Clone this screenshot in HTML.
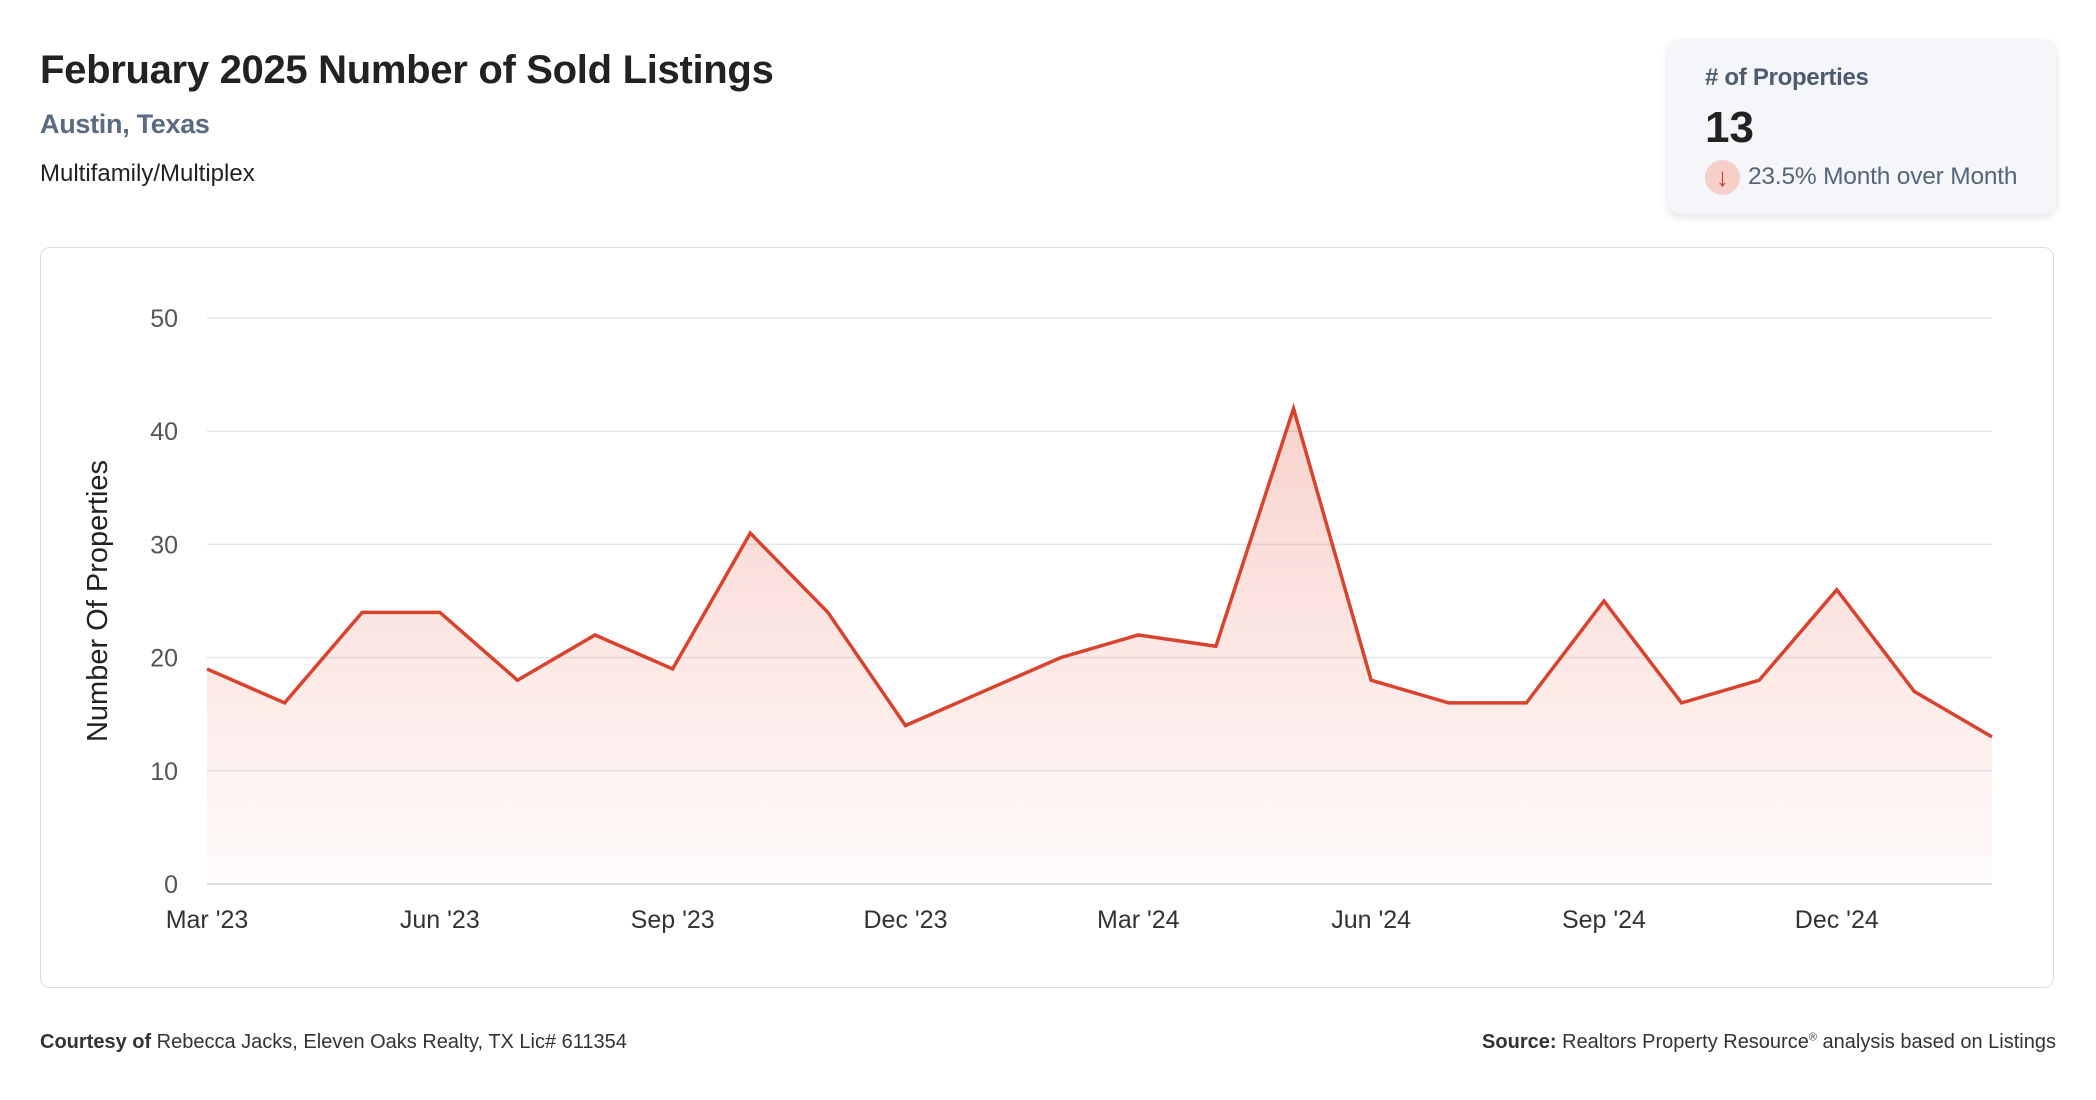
<!DOCTYPE html>
<html><head><meta charset="utf-8"><style>
body{margin:0;width:2096px;height:1100px;background:#fff;font-family:"Liberation Sans",sans-serif;position:relative;overflow:hidden}
.a{position:absolute;white-space:nowrap}
</style></head><body>
<div class="a" style="left:40px;top:48px;font-size:40px;font-weight:bold;color:#222;letter-spacing:-0.3px">February 2025 Number of Sold Listings</div>
<div class="a" style="left:40px;top:109px;font-size:27px;font-weight:bold;color:#5a6a80;letter-spacing:-0.3px">Austin, Texas</div>
<div class="a" style="left:40px;top:160px;font-size:24px;color:#222">Multifamily/Multiplex</div>
<div class="a" style="left:1668px;top:39px;width:388px;height:175px;background:#f4f6f9;border-radius:12px;box-shadow:0 3px 8px rgba(0,0,0,0.12)">
 <div class="a" style="left:37px;top:25px;font-size:24px;font-weight:bold;color:#4d5b6e;letter-spacing:-0.3px"># of Properties</div>
 <div class="a" style="left:37px;top:64px;font-size:44px;font-weight:bold;color:#222">13</div>
 <div class="a" style="left:37px;top:121px;width:35px;height:35px;border-radius:50%;background:#f5cfc8;color:#c8402c;font-size:26px;text-align:center;line-height:35px">↓</div>
 <div class="a" style="left:80px;top:124px;font-size:24.5px;color:#55657a;letter-spacing:-0.2px">23.5% Month over Month</div>
</div>
<div class="a" style="left:40px;top:247px;width:2012px;height:739px;border:1.5px solid #d8dde3;border-radius:10px"></div>
<svg class="a" style="left:0;top:0" width="2096" height="1100">
<defs><linearGradient id="g" x1="0" y1="0" x2="0" y2="1"><stop offset="0" stop-color="#e8604a" stop-opacity="0.28"/><stop offset="1" stop-color="#e8604a" stop-opacity="0.02"/></linearGradient></defs>
<g id="grid"></g><g id="area"></g><g id="lbl"></g>
<text transform="translate(107,601) rotate(-90)" text-anchor="middle" font-size="29" fill="#222" font-family="Liberation Sans">Number Of Properties</text>
</svg>
<div class="a" style="left:40px;top:1031px;font-size:20px;color:#333"><b>Courtesy of</b> Rebecca Jacks, Eleven Oaks Realty, TX Lic# 611354</div>
<div class="a" style="right:40px;top:1031px;font-size:20px;color:#333"><b>Source:</b> Realtors Property Resource<sup style="font-size:11px">®</sup> analysis based on Listings</div>
<script>
const months=["Mar '23","Apr '23","May '23","Jun '23","Jul '23","Aug '23","Sep '23","Oct '23","Nov '23","Dec '23","Jan '24","Feb '24","Mar '24","Apr '24","May '24","Jun '24","Jul '24","Aug '24","Sep '24","Oct '24","Nov '24","Dec '24","Jan '25","Feb '25"];
const sold=[19,16,24,24,18,22,19,31,24,14,17,20,22,21,42,18,16,16,25,16,18,26,17,13];
const yTicks=[0,10,20,30,40,50];
const xTickIdx=[0,3,6,9,12,15,18,21];
const NS="http://www.w3.org/2000/svg";
const x0=207,x1=1992,yb=884,yt=318;
const xs=i=>x0+(x1-x0)*i/(months.length-1);
const ys=v=>yb-(yb-yt)*v/50;
function mk(t,p,a){const e=document.createElementNS(NS,t);for(const k in a)e.setAttribute(k,a[k]);p.appendChild(e);return e;}
const grid=document.getElementById('grid'),area=document.getElementById('area'),lbl=document.getElementById('lbl');
yTicks.forEach(v=>{
 const l=mk('line',grid,{x1:x0,x2:x1,y1:ys(v),y2:ys(v),stroke:v===0?'#d4d8dd':'#e3e6ea','stroke-width':1.5});
 
 
 const t=mk('text',lbl,{x:178,y:ys(v)+9,'text-anchor':'end','font-size':25,fill:'#555','font-family':'Liberation Sans'});
 t.textContent=v;
 
 
});
xTickIdx.forEach(i=>{
 const t=mk('text',lbl,{x:xs(i),y:928,'text-anchor':'middle','font-size':25,fill:'#333','font-family':'Liberation Sans'});
 t.textContent=months[i];
 
 
});
const pts=sold.map((v,i)=>xs(i)+','+ys(v)).join(' ');
const fill=mk('polygon',area,{points:pts+' '+xs(sold.length-1)+','+yb+' '+x0+','+yb,fill:'url(#g)'});


const line=mk('polyline',area,{points:pts,fill:'none',stroke:'#d9432e','stroke-width':3.5,'stroke-linejoin':'miter'});


</script>
</body></html>
